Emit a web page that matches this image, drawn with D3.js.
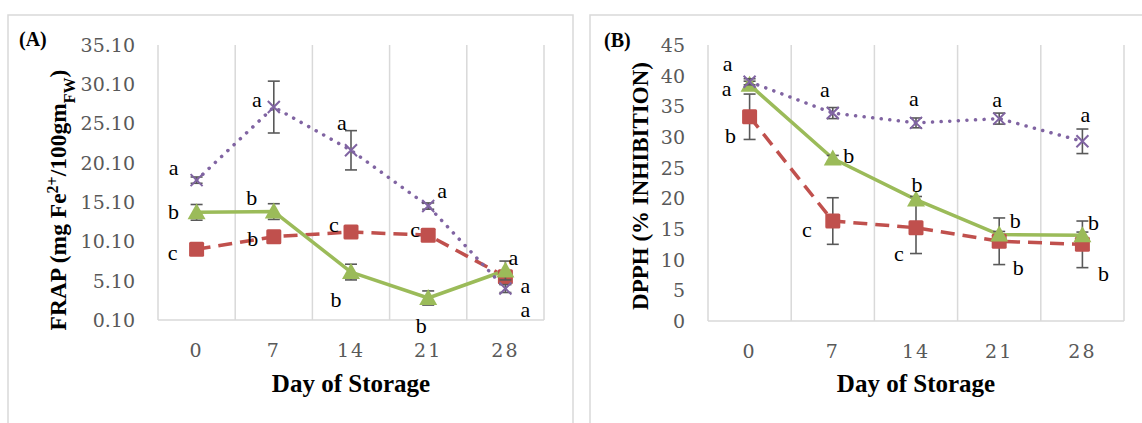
<!DOCTYPE html>
<html>
<head>
<meta charset="utf-8">
<script src="https://cdn.jsdelivr.net/npm/d3@7"></script>
<style>
  body { margin: 0; background: #fff; }
  svg { display: block; }
</style>
</head>
<body>
<svg id="drawing_region"></svg>
<script>
// ---- data ----
const days = ['0', '7', '14', '21', '28'];

// (A) FRAP
const frapTicks = [0.10, 5.10, 10.10, 15.10, 20.10, 25.10, 30.10, 35.10];
const frapRed = [9.1, 10.7, 11.3, 10.9, 5.6];
const frapRedErr = [0.5, 0.6, 0.5, 0.6, 0.6];
const frapRedLetters = ['c', 'b', 'c', 'c', 'a'];
const frapGreen = [13.8, 13.9, 6.2, 2.9, 6.4];
const frapGreenErr = [1.0, 1.0, 1.0, 0.9, 1.2];
const frapGreenLetters = ['b', 'b', 'b', 'b', 'a'];
const frapPurple = [17.9, 27.2, 21.7, 14.6, 4.1];
const frapPurpleErr = [0.4, 3.3, 2.5, 0.4, 0.5];
const frapPurpleLetters = ['a', 'a', 'a', 'a', 'a'];

// (B) DPPH
const dpphTicks = [0, 5, 10, 15, 20, 25, 30, 35, 40, 45];
const dpphRed = [33.3, 16.3, 15.2, 13.0, 12.5];
const dpphRedErr = [3.7, 3.8, 4.2, 3.8, 3.8];
const dpphRedLetters = ['b', 'c', 'c', 'b', 'b'];
const dpphGreen = [38.5, 26.5, 19.8, 14.1, 14.0];
const dpphGreenErr = [0.6, 0.5, 0.5, 0.5, 0.5];
const dpphGreenLetters = ['a', 'b', 'b', 'b', 'b'];
const dpphPurple = [39.0, 33.9, 32.3, 33.0, 29.3];
const dpphPurpleErr = [0.5, 0.9, 0.8, 0.9, 2.0];
const dpphPurpleLetters = ['a', 'a', 'a', 'a', 'a'];

// ---- layout: letter offsets (px) from each point ----
const frapLabelOffsets = {
    red:    [[-24, 4], [-21, 3], [-17, -7], [-13, -5], [20, 34]],
    green:  [[-23, 0], [-22, -13], [-15, 28], [-7, 28], [8, -12]],
    purple: [[-23, -12], [-17, -7], [-9, -27], [14, -15], [20, -2]]
};
const dpphLabelOffsets = {
    red:    [[-19, 20], [-26, 9], [-17, 27], [19, 27], [21, 30]],
    green:  [[-23, 5], [16, -2], [1, -14], [16, -13], [11, -12]],
    purple: [[-22, -17], [-8, -23], [-2, -23], [-2, -18], [3, -26]]
};

const COLORS = { red: '#C0504D', green: '#9BBB59', purple: '#8064A2' };
const SERIF = "'Liberation Serif', serif";
const TICKFONT = "'DejaVu Serif', serif";

const svg = d3.select('#drawing_region')
    .attr('width', 1142)
    .attr('height', 423);

svg.append('rect').attr('width', 1142).attr('height', 423).attr('fill', '#fff');

class LinePanel {

    constructor( config, series ) {
        this.config = config;
        this.series = series;
        this.init();
    }

    init() {
        let self = this;
        const c = self.config;

        // panel frame
        self.svg = svg.append('g');
        self.svg.append('rect')
            .attr('x', c.frame.x).attr('y', c.frame.y)
            .attr('width', c.frame.w).attr('height', c.frame.h)
            .attr('fill', 'none')
            .attr('stroke', '#D9D9D9')
            .attr('stroke-width', 1.5);

        self.chart = self.svg.append('g')
            .attr('transform', `translate(${c.left}, ${c.top})`);

        self.inner_width = c.width;
        self.inner_height = c.height;

        self.xscale = d3.scaleBand()
            .domain( days )
            .range( [0, self.inner_width] );

        self.yscale = d3.scaleLinear()
            .domain( c.ydomain )
            .range( [self.inner_height, 0] );
    }

    render() {
        let self = this;
        const c = self.config;
        const xs = self.xscale, ys = self.yscale;
        const xc = d => xs(d) + xs.bandwidth() / 2;

        // vertical gridlines at category boundaries
        const bounds = days.map(d => xs(d)).concat([self.inner_width]);
        self.chart.selectAll('.grid')
            .data(bounds)
            .enter()
            .append('line')
            .attr('x1', d => d).attr('x2', d => d)
            .attr('y1', 0).attr('y2', self.inner_height)
            .attr('stroke', '#D9D9D9')
            .attr('stroke-width', 1.5);

        self.chart.append('line')
            .attr('x1', 0).attr('x2', self.inner_width)
            .attr('y1', self.inner_height).attr('y2', self.inner_height)
            .attr('stroke', '#D9D9D9')
            .attr('stroke-width', 1.5);

        // y tick labels
        self.chart.selectAll('.ytick')
            .data(c.ticks)
            .enter()
            .append('text')
            .attr('x', -23)
            .attr('y', d => ys(d))
            .attr('dy', '0.36em')
            .attr('text-anchor', 'end')
            .attr('fill', '#595959')
            .attr('font-family', TICKFONT)
            .attr('font-size', '19px')
            .text(d => c.tickFormat(d));

        // x tick labels
        self.chart.selectAll('.xtick')
            .data(days)
            .enter()
            .append('text')
            .attr('x', d => xc(d))
            .attr('y', self.inner_height + 30)
            .attr('dy', '0.36em')
            .attr('text-anchor', 'middle')
            .attr('fill', '#595959')
            .attr('font-family', TICKFONT)
            .attr('font-size', '19px')
            .attr('letter-spacing', '2px')
            .text(d => d);

        // series: lines
        self.series.forEach(s => {
            const pts = s.values.map((v, i) => [xc(days[i]), ys(v)]);
            const path = self.chart.append('path')
                .attr('d', d3.line()(pts))
                .attr('fill', 'none')
                .attr('stroke', COLORS[s.color]);
            if (s.style === 'dash') {
                path.attr('stroke-width', 3.5).attr('stroke-dasharray', '14 8');
            } else if (s.style === 'dot') {
                path.attr('stroke-width', 3.5).attr('stroke-linecap', 'round')
                    .attr('stroke-dasharray', '0.1 8.5');
            } else {
                path.attr('stroke-width', 3.5).attr('stroke-linejoin', 'round');
            }
            s.pts = pts;
        });

        // error bars + markers, series by series
        self.series.forEach(s => {
            const g = self.chart.append('g');
            const eb = g.selectAll('.eb')
                .data(s.values.map((v, i) => ({ v: v, e: s.err[i], x: s.pts[i][0] })))
                .enter()
                .append('g')
                .attr('stroke', '#595959')
                .attr('stroke-width', 1.6);
            eb.append('line')
                .attr('x1', d => d.x).attr('x2', d => d.x)
                .attr('y1', d => ys(d.v + d.e)).attr('y2', d => ys(d.v - d.e));
            eb.append('line')
                .attr('x1', d => d.x - 6).attr('x2', d => d.x + 6)
                .attr('y1', d => ys(d.v + d.e)).attr('y2', d => ys(d.v + d.e));
            eb.append('line')
                .attr('x1', d => d.x - 6).attr('x2', d => d.x + 6)
                .attr('y1', d => ys(d.v - d.e)).attr('y2', d => ys(d.v - d.e));

            const m = g.selectAll('.mk')
                .data(s.pts)
                .enter();
            if (s.marker === 'square') {
                m.append('rect')
                    .attr('x', d => d[0] - 7.5).attr('y', d => d[1] - 7.5)
                    .attr('width', 15).attr('height', 15)
                    .attr('rx', 1.5)
                    .attr('fill', COLORS[s.color]);
            } else if (s.marker === 'triangle') {
                m.append('path')
                    .attr('d', d => `M${d[0]},${d[1] - 9} L${d[0] + 9},${d[1] + 7} L${d[0] - 9},${d[1] + 7} Z`)
                    .attr('fill', COLORS[s.color]);
            } else {
                m.append('path')
                    .attr('d', d => `M${d[0] - 6},${d[1] - 6} L${d[0] + 6},${d[1] + 6} M${d[0] - 6},${d[1] + 6} L${d[0] + 6},${d[1] - 6}`)
                    .attr('stroke', COLORS[s.color])
                    .attr('stroke-width', 2);
            }
        });

        // significance letters
        self.series.forEach(s => {
            self.chart.selectAll(null)
                .data(s.letters)
                .enter()
                .append('text')
                .attr('x', (d, i) => s.pts[i][0] + s.offsets[i][0])
                .attr('y', (d, i) => s.pts[i][1] + s.offsets[i][1])
                .attr('dy', '0.3em')
                .attr('text-anchor', 'middle')
                .attr('fill', '#000')
                .attr('font-family', SERIF)
                .attr('font-size', '22px')
                .text(d => d);
        });

        // panel tag
        self.svg.append('text')
            .attr('x', c.tag.x).attr('y', c.tag.y)
            .attr('font-family', SERIF)
            .attr('font-weight', 'bold')
            .attr('font-size', '20px')
            .text(c.tag.text);

        // x title
        self.svg.append('text')
            .attr('x', c.left + self.inner_width / 2)
            .attr('y', 392)
            .attr('text-anchor', 'middle')
            .attr('font-family', SERIF)
            .attr('font-weight', 'bold')
            .attr('font-size', '25px')
            .text('Day of Storage');

        // y title
        const yt = self.svg.append('text')
            .attr('transform', `translate(${c.ytitle.x}, ${c.ytitle.y}) rotate(-90)`)
            .attr('text-anchor', 'middle')
            .attr('font-family', SERIF)
            .attr('font-weight', 'bold')
            .attr('font-size', c.ytitle.size);
        c.ytitle.parts.forEach(p => {
            const t = yt.append('tspan').text(p.t);
            if (p.sup) t.attr('baseline-shift', 'super').attr('font-size', '16px');
            if (p.sub) t.attr('baseline-shift', 'sub').attr('font-size', '16px');
        });
    }
}

const panelA = new LinePanel({
    frame: { x: 8, y: 15, w: 565, h: 430 },
    left: 158, top: 45, width: 386, height: 275,
    ydomain: [0.10, 35.10],
    ticks: frapTicks,
    tickFormat: d3.format('.2f'),
    tag: { x: 19, y: 46, text: '(A)' },
    ytitle: { x: 66, y: 200, size: '23.5px', parts: [
        { t: 'FRAP (mg Fe' }, { t: '2+', sup: true }, { t: '/100gm' }, { t: 'FW', sub: true }, { t: ')' }
    ] }
}, [
    { color: 'red', style: 'dash', marker: 'square', values: frapRed, err: frapRedErr, letters: frapRedLetters, offsets: frapLabelOffsets.red },
    { color: 'green', style: 'solid', marker: 'triangle', values: frapGreen, err: frapGreenErr, letters: frapGreenLetters, offsets: frapLabelOffsets.green },
    { color: 'purple', style: 'dot', marker: 'x', values: frapPurple, err: frapPurpleErr, letters: frapPurpleLetters, offsets: frapLabelOffsets.purple }
]);
panelA.render();

const panelB = new LinePanel({
    frame: { x: 590, y: 15, w: 600, h: 430 },
    left: 708, top: 45, width: 416, height: 276,
    ydomain: [0, 45],
    ticks: dpphTicks,
    tickFormat: d => d,
    tag: { x: 604, y: 47, text: '(B)' },
    ytitle: { x: 648, y: 186, size: '23px', parts: [ { t: 'DPPH (% INHIBITION)' } ] }
}, [
    { color: 'red', style: 'dash', marker: 'square', values: dpphRed, err: dpphRedErr, letters: dpphRedLetters, offsets: dpphLabelOffsets.red },
    { color: 'green', style: 'solid', marker: 'triangle', values: dpphGreen, err: dpphGreenErr, letters: dpphGreenLetters, offsets: dpphLabelOffsets.green },
    { color: 'purple', style: 'dot', marker: 'x', values: dpphPurple, err: dpphPurpleErr, letters: dpphPurpleLetters, offsets: dpphLabelOffsets.purple }
]);
panelB.render();
</script>
</body>
</html>
